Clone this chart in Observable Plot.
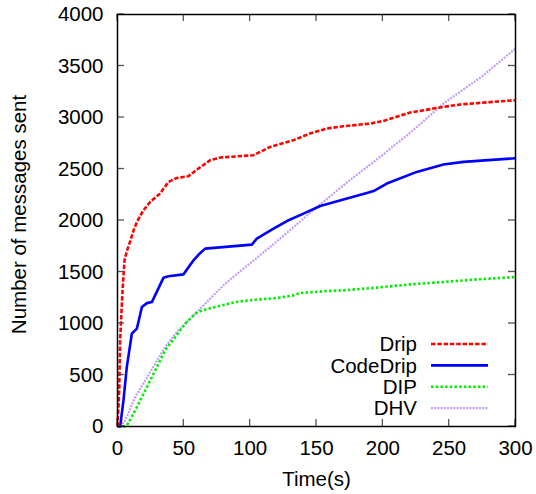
<!DOCTYPE html>
<html>
<head>
<meta charset="utf-8">
<script src="https://cdn.jsdelivr.net/npm/d3@7"></script>
<script src="https://cdn.jsdelivr.net/npm/@observablehq/plot@0.6"></script>
<style>
  html, body { margin: 0; padding: 0; background: #fff; }
  #chart { width: 536px; height: 494px; }
</style>
</head>
<body>
<div id="chart"></div>
<script>
// ---- Data ----
const seriesNames = ["Drip", "CodeDrip", "DIP", "DHV"];

const dripTime = [0, 1.3, 2, 3.8, 5.3, 7, 9.6, 12, 14.6, 19.6, 24.6, 32, 38.4, 44.7, 53.5, 61, 69.8, 77.4, 102.5, 115, 132.6, 145, 157.8, 170.3, 190.4, 200.5, 220.6, 245.7, 258, 283.6, 300];
const dripValue = [0, 350, 836, 1322, 1613, 1700, 1800, 1900, 1985, 2100, 2180, 2261, 2374, 2413, 2430, 2504, 2585, 2611, 2634, 2714, 2779, 2844, 2893, 2915, 2941, 2967, 3048, 3103, 3126, 3152, 3168];

const codeDripTime = [0, 2, 4.5, 7, 10.8, 14.6, 18.4, 22.2, 25.9, 34.7, 38.4, 49.7, 57.3, 62, 66.1, 101.3, 105, 117.6, 127.7, 140.2, 152.8, 170.3, 188, 193, 203, 225.6, 245.7, 260.8, 300];
const codeDripValue = [0, 0, 253, 576, 901, 950, 1160, 1198, 1208, 1445, 1458, 1477, 1613, 1680, 1727, 1766, 1824, 1921, 1995, 2067, 2141, 2203, 2268, 2286, 2359, 2472, 2543, 2569, 2604];

const dipTime = [4, 7, 13.3, 20.9, 28.4, 35.9, 43.5, 51, 58.6, 63.6, 73.6, 88.7, 103.8, 120, 132.6, 137.7, 158, 170.3, 195.5, 220.6, 245.7, 270.8, 300];
const dipValue = [0, 8, 155, 350, 544, 739, 868, 998, 1095, 1127, 1160, 1208, 1231, 1247, 1273, 1296, 1315, 1322, 1348, 1380, 1403, 1428, 1451];

const dhvTime = [2, 5.8, 13.3, 20.9, 28.4, 35.9, 43.5, 51, 58.6, 66.1, 73.6, 81.2, 88.7, 101.3, 125, 150.3, 175, 200, 225, 245.7, 275, 300];
const dhvValue = [0, 58, 285, 447, 609, 771, 901, 998, 1095, 1192, 1290, 1387, 1467, 1597, 1850, 2131, 2390, 2637, 2900, 3136, 3401, 3670];

const xTicks = [0, 50, 100, 150, 200, 250, 300];
const yTicks = [0, 500, 1000, 1500, 2000, 2500, 3000, 3500, 4000];

const xLabel = "Time(s)";
const yLabel = "Number of messages sent";

// ---- Styles ----
const styles = {
  "Drip":     {stroke: "#ff0000", strokeWidth: 2.6, dash: "4.5,1.8"},
  "CodeDrip": {stroke: "#0000ff", strokeWidth: 2.6, dash: "none"},
  "DIP":      {stroke: "#00ee00", strokeWidth: 2.6, dash: "2.5,2.2"},
  "DHV":      {stroke: "#c29cf7", strokeWidth: 2.2, dash: "2,1.2"}
};

const sources = {
  "Drip": [dripTime, dripValue],
  "CodeDrip": [codeDripTime, codeDripValue],
  "DIP": [dipTime, dipValue],
  "DHV": [dhvTime, dhvValue]
};

const lineData = {};
for (const name of seriesNames) {
  const [ts, vs] = sources[name];
  lineData[name] = ts.map((t, i) => ({t, v: vs[i], name}));
}

const FONT = "'Liberation Sans', Arial, Helvetica, sans-serif";
const FS = 20.5;

// inward ticks on all four sides, through the library's scales
function innerTicks(index, scales, values, dimensions) {
  const {width, height, marginLeft, marginRight, marginTop, marginBottom} = dimensions;
  const L = marginLeft, R = width - marginRight, T = marginTop, B = height - marginBottom;
  const len = 7;
  const g = d3.create("svg:g").attr("stroke", "#555").attr("stroke-width", 1.3);
  for (const t of xTicks) {
    const x = scales.x(t);
    g.append("line").attr("x1", x).attr("x2", x).attr("y1", B).attr("y2", B - len);
    g.append("line").attr("x1", x).attr("x2", x).attr("y1", T).attr("y2", T + len);
  }
  for (const v of yTicks) {
    const y = scales.y(v);
    g.append("line").attr("x1", L).attr("x2", L + len).attr("y1", y).attr("y2", y);
    g.append("line").attr("x1", R).attr("x2", R - len).attr("y1", y).attr("y2", y);
  }
  return g.node();
}

function legend(index, scales, values, dimensions) {
  const {width, height, marginRight, marginBottom} = dimensions;
  const R = width - marginRight, B = height - marginBottom;
  const g = d3.create("svg:g").attr("font-family", FONT).attr("font-size", FS);
  seriesNames.forEach((name, i) => {
    const y = B - 82 + i * 21.4;
    const s = styles[name];
    g.append("text").attr("x", R - 98).attr("y", y).attr("dy", "0.35em")
      .attr("text-anchor", "end").attr("fill", "#000").text(name);
    g.append("line").attr("x1", R - 84).attr("x2", R - 27).attr("y1", y).attr("y2", y)
      .attr("stroke", s.stroke).attr("stroke-width", s.strokeWidth)
      .attr("stroke-dasharray", s.dash);
  });
  return g.node();
}

const drawOrder = ["DHV", "DIP", "CodeDrip", "Drip"];
const marks = drawOrder.map(name => {
  const s = styles[name];
  return Plot.line(lineData[name], {
    x: "t", y: "v",
    stroke: s.stroke, strokeWidth: s.strokeWidth,
    strokeDasharray: s.dash,
    strokeLinejoin: "round",
    strokeLinecap: "butt"
  });
});

const chart = Plot.plot({
  width: 536,
  height: 494,
  marginLeft: 117,
  marginRight: 21,
  marginTop: 14,
  marginBottom: 68,
  style: {fontFamily: FONT, fontSize: FS + "px", background: "#fff", color: "#000", overflow: "visible"},
  x: {domain: [0, 300]},
  y: {domain: [0, 4000]},
  marks: [
    Plot.axisX({ticks: xTicks, tickSize: 0, tickPadding: 14, label: null, fontSize: FS, tickFormat: d3.format("d")}),
    Plot.axisY({ticks: yTicks, tickSize: 0, tickPadding: 14, label: null, fontSize: FS, tickFormat: d3.format("d")}),
    ...marks,
    innerTicks,
    Plot.frame({stroke: "#000", strokeWidth: 1.5}),
    legend,
    Plot.text([xLabel], {frameAnchor: "bottom", dy: 52.5, text: d => d, fontSize: FS, lineAnchor: "middle", textAnchor: "middle"}),
    Plot.text([yLabel], {frameAnchor: "left", dx: -98, dy: -6, rotate: -90, text: d => d, fontSize: FS, lineAnchor: "middle", textAnchor: "middle"})
  ]
});

// make sure each series keeps its dash pattern
const lineGroups = chart.querySelectorAll('g[aria-label="line"]');
lineGroups.forEach((g, i) => {
  const s = styles[drawOrder[i]];
  if (!s) return;
  g.setAttribute("stroke-dasharray", s.dash);
  g.querySelectorAll("path").forEach(p => p.setAttribute("stroke-dasharray", s.dash));
});

document.getElementById("chart").appendChild(chart);
</script>
</body>
</html>
